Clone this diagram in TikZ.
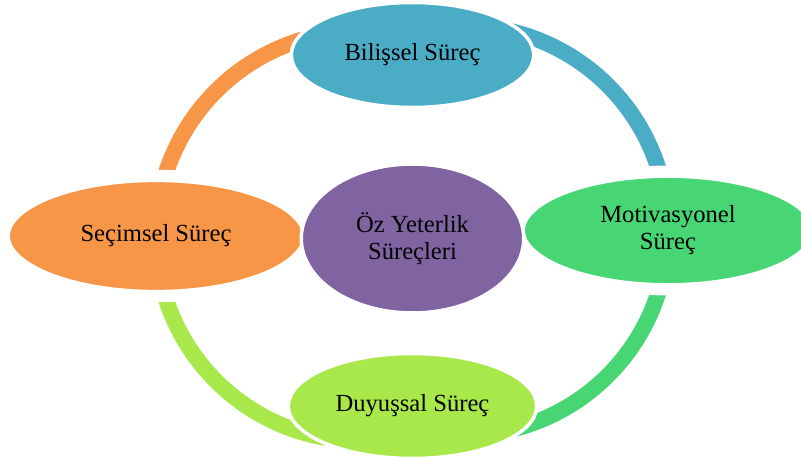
\documentclass[tikz,border=0pt]{standalone}
\usepackage{fontspec}
\setmainfont{Liberation Serif}
\usepackage{tikz}
\usetikzlibrary{shapes.geometric}
\usetikzlibrary{backgrounds}
\usetikzlibrary{math}

\definecolor{cbil}{HTML}{4BACC6}
\definecolor{cmot}{HTML}{48D674}
\definecolor{cduy}{HTML}{A9E84A}
\definecolor{csec}{HTML}{F79646}
\definecolor{coz}{HTML}{8064A2}

\tikzstyle{proc} = [ellipse, draw=white, line width=2pt, text=black, align=center, font=\fontsize{14}{15.4}\selectfont]
\tikzstyle{side} = [line width=7pt]
\tikzstyle{ring} = [line width=0.32cm]

\begin{document}
\begin{tikzpicture}

  \tikzmath{\W = 16.02; \H = 9.12; \cx = 8.25; \R = 4.1;}

  \clip (0,0) rectangle (\W,\H);

  % nodes
  \node[proc, fill=cbil, minimum width=4.85cm, minimum height=2.1cm] (bilissel) at (\cx,8.02) {Bilişsel Süreç};
  \node[proc, side, fill=cmot, minimum width=5.97cm, minimum height=2.35cm] (motiv) at (13.36,4.51) {Motivasyonel\\Süreç};
  \node[proc, fill=cduy, minimum width=4.97cm, minimum height=2.1cm] (duygu) at (\cx,1.0) {Duyuşsal Süreç};
  \node[proc, side, fill=csec, minimum width=6.09cm, minimum height=2.4cm] (secim) at (3.12,4.40) {Seçimsel Süreç};
  \node[proc, fill=coz, minimum width=4.45cm, minimum height=2.98cm] (oz) at (\cx,4.35) {Öz Yeterlik\\Süreçleri};

  % ring
  \begin{scope}[on background layer]
    \draw[ring, cbil] (motiv.center) arc[start angle=0, end angle=100, radius=\R];
    \draw[ring, cmot] (motiv.center) arc[start angle=0, end angle=-100, radius=\R];
    \draw[ring, cduy] (secim.center) arc[start angle=180, end angle=260, radius=\R];
    \draw[ring, csec] (secim.center) arc[start angle=180, end angle=80, radius=\R];
  \end{scope}

\end{tikzpicture}
\end{document}
